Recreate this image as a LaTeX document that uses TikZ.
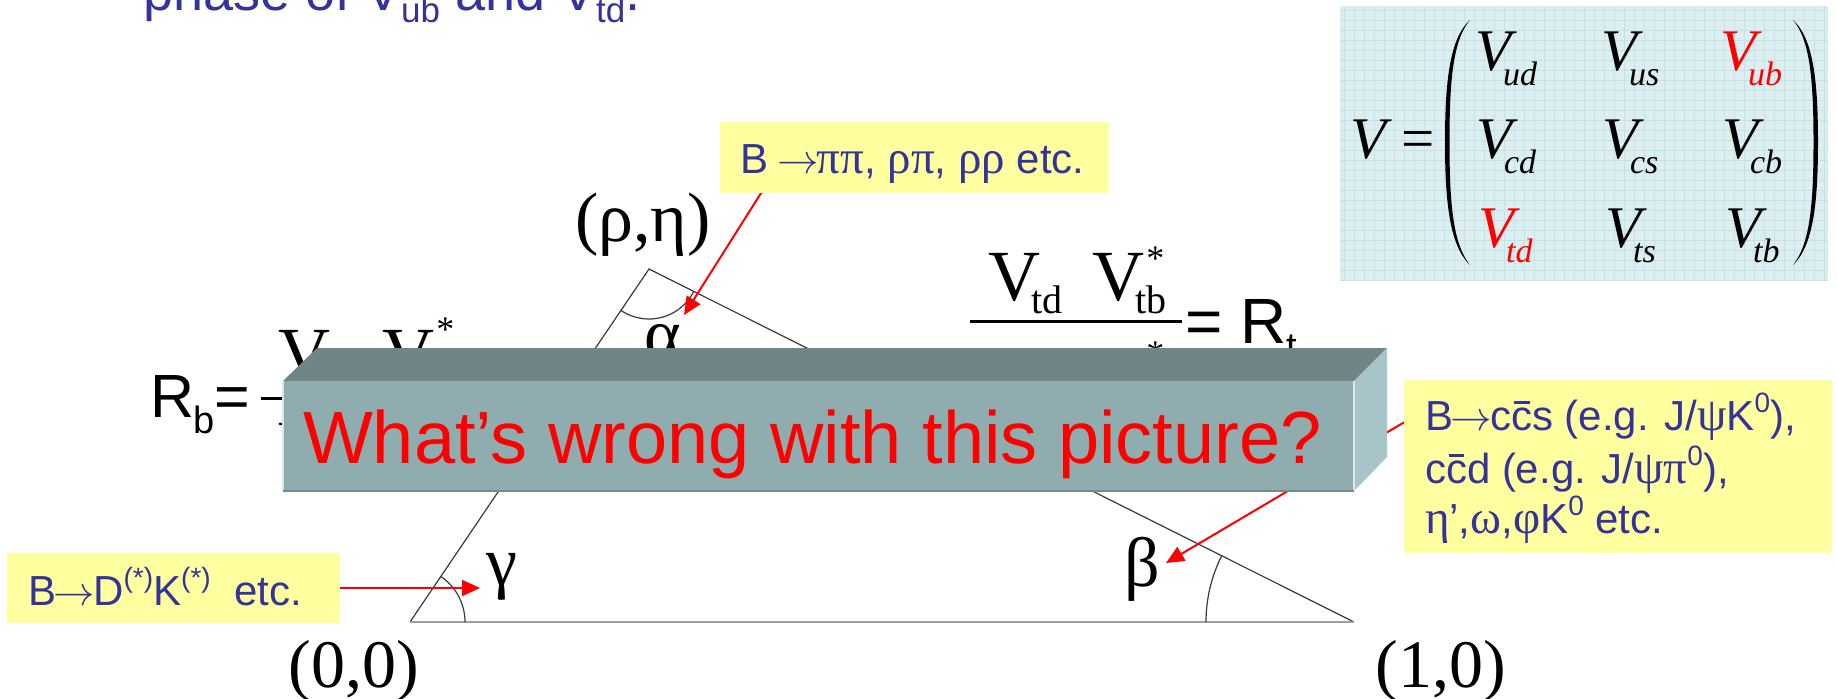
\documentclass[tikz,border=0pt]{standalone}
\usepackage{fontspec}
\setmainfont{Liberation Sans}
\newfontfamily\tms{Liberation Serif}
\usetikzlibrary{arrows.meta}
\definecolor{tblue}{HTML}{333399}
\definecolor{cyel}{HTML}{FFFFA0}
\definecolor{mbg}{HTML}{DCEEF0}
\definecolor{mgrid}{HTML}{C4E3E6}
\definecolor{btop}{HTML}{6F8587}
\definecolor{bfront}{HTML}{8FADAE}
\definecolor{bside}{HTML}{A7C5C8}
\definecolor{tline}{HTML}{3A3A3A}
\newcommand\fs[1]{\fontsize{#1}{#1}\selectfont}
\newcommand\cbar{\leavevmode\rlap{\kern0.06em\rule[0.63em]{0.38em}{0.06em}}c}
\newcommand\Vf[1]{V\kern-4.5pt\raisebox{-6.5pt}{\fs{20}#1}}
\newcommand\Mv[1]{{\itshape V\kern-4pt\raisebox{-7.5pt}{\fs{17}#1}}}
\newcommand\gk[1]{{\tms\fs{23.5}#1}}
\newcommand\arr{\kern-0.05em$\rightarrow$\kern-0.05em}
\newcommand\sps[1]{\raisebox{0.42em}{\fs{14}#1}}
\begin{document}
\begin{tikzpicture}[x=0.5pt,y=-0.5pt,
  txt/.style={inner sep=0pt,outer sep=0pt,anchor=base west},
  callout/.style={fill=cyel,draw=none,inner sep=0pt,outer sep=0pt,anchor=north west},
  ctext/.style={txt,text=tblue,font=\fs{21}},
  redarrow/.style={red,line width=1pt,-{Triangle[length=9pt,width=8pt]}},
  side/.style={tline,line width=0.6pt},
  serif/.style={inner sep=0pt,outer sep=0pt,font=\tms\fs{35}}
]
\useasboundingbox (0,0) rectangle (1837,698);
\clip (0,0) rectangle (1837,698);

% title line (cut at top)
\node[txt,text=tblue,font=\fs{27}] (title) at (143,10)
  {phase of V\raisebox{-6pt}{\fs{17.5}ub} and V\raisebox{-6pt}{\fs{17.5}td}.};

% CKM matrix panel
\node[callout,fill=mbg,minimum width=244pt,minimum height=137pt] (mbox) at (1340,6) {};
\begin{scope}
\clip (1340,6) rectangle (1828,280);
\foreach \i in {0,...,49} \draw[mgrid,line width=0.5pt] ({1344+10*\i},6) -- ({1344+10*\i},280);
\foreach \j in {0,...,27} \draw[mgrid,line width=0.5pt] (1340,{10+10*\j}) -- (1828,{10+10*\j});
\end{scope}
\node[txt,font=\tms\fs{29.5}] (mV) at (1350,158) {\itshape V};
\node[txt,font=\tms\fs{29.5}] (meq) at (1401,158) {=};
\fill[black] (1470,20) .. controls (1450,38) and (1445,80) .. (1445,142)
  .. controls (1445,204) and (1450,246) .. (1470,265)
  .. controls (1453,244) and (1449.5,204) .. (1449.5,142)
  .. controls (1449.5,80) and (1453,40) .. (1470,20) -- cycle;
\fill[black] (1793,20) .. controls (1813,38) and (1818,80) .. (1818,142)
  .. controls (1818,204) and (1813,246) .. (1793,265)
  .. controls (1810,244) and (1813.5,204) .. (1813.5,142)
  .. controls (1813.5,80) and (1810,40) .. (1793,20) -- cycle;
\node[txt,font=\tms\fs{29.5}] (m11) at (1475,70) {\Mv{ud}};
\node[txt,font=\tms\fs{29.5}] (m12) at (1601,70) {\Mv{us}};
\node[txt,font=\tms\fs{29.5},text=red] (m13) at (1720,70) {\Mv{ub}};
\node[txt,font=\tms\fs{29.5}] (m21) at (1476,158) {\Mv{cd}};
\node[txt,font=\tms\fs{29.5}] (m22) at (1602,158) {\Mv{cs}};
\node[txt,font=\tms\fs{29.5}] (m23) at (1722,158) {\Mv{cb}};
\node[txt,font=\tms\fs{29.5},text=red] (m31) at (1478,247) {\Mv{td}};
\node[txt,font=\tms\fs{29.5}] (m32) at (1605,247) {\Mv{ts}};
\node[txt,font=\tms\fs{29.5}] (m33) at (1725,247) {\Mv{tb}};

% unitarity triangle
\coordinate (A) at (410,622);
\coordinate (B) at (1354,622);
\coordinate (C) at (649,269);
\draw[side] (A) -- (C) -- (B);
\draw[black!38,line width=1.2pt] (A) -- (B);
\draw[side] (A) ++(0:55) arc[start angle=0,end angle=-55.9,radius=55];
\draw[side] (B) ++(180:148) arc[start angle=180,end angle=206.6,radius=148];
\draw[side] (C) ++(26.6:50) arc[start angle=26.6,end angle=124.1,radius=50];
\node[serif,anchor=north] (alpha) at (663,324) {α};
\node[serif] (gamma) at (502,577) {γ};
\node[serif] (beta) at (1142,569) {β};
\node[serif,anchor=base] (rhoeta) at (643,241) {(ρ,η)};
\node[serif,font=\tms\fs{34},anchor=base] (p00) at (354,687) {(0,0)};
\node[serif,font=\tms\fs{34},anchor=base] (p10) at (1441,687) {(1,0)};

% R_b fraction
\node[txt,font=\fs{30.5}] (Rb) at (150,417) {R\kern-0.5pt\raisebox{-8pt}{\fs{19}b}=};
\draw[black,line width=1.5pt] (261,398) -- (473,398);
\node[txt,font=\tms\fs{36}] (rbn1) at (278,377) {\Vf{ud}};
\node[txt,font=\tms\fs{36}] (rbn2) at (382,377) {\Vf{ub}};
\node[inner sep=0pt,anchor=north west,font=\tms\fs{18}] (rbs1) at (436,318) {*};
\node[txt,font=\tms\fs{36}] (rbd1) at (278,470) {V};

% R_t fraction
\draw[black,line width=1.5pt] (970,321) -- (1182,321);
\node[txt,font=\tms\fs{36}] (rtn1) at (988,300) {\Vf{td}};
\node[txt,font=\tms\fs{36}] (rtn2) at (1092,300) {\Vf{tb}};
\node[inner sep=0pt,anchor=north west,font=\tms\fs{18}] (rts1) at (1146,247) {*};
\node[inner sep=0pt,anchor=north west,font=\tms\fs{18}] (rts2) at (1146,342) {*};
\node[txt,font=\fs{32}] (Rt) at (1185,343) {= R\raisebox{-8pt}{\fs{19}t}};

% callout arrows (behind the block)
\coordinate (a1s) at (763,190);
\coordinate (a1e) at (684,315);
\coordinate (a2s) at (339,588);
\coordinate (a2e) at (480,588);
\coordinate (a3s) at (1408,420);
\coordinate (a3e) at (1166,563);
\draw[redarrow] (a1s) -- (a1e);
\draw[redarrow] (a2s) -- (a2e);
\draw[redarrow] (a3s) -- (a3e);

% 3D block
\coordinate (f1) at (283,381);
\coordinate (f2) at (1354,381);
\coordinate (f3) at (1354,491);
\coordinate (f4) at (283,491);
\coordinate (t1) at (317,348);
\coordinate (t2) at (1387,348);
\coordinate (s3) at (1387,457);
\fill[btop] (f1) -- (t1) -- (t2) -- (f2) -- cycle;
\fill[bside] (f2) -- (t2) -- (s3) -- (f3) -- cycle;
\fill[bfront] (f1) rectangle (f3);
\draw[white!70!bfront,line width=0.8pt] (f1) -- (f4);
\draw[white!60!bside,line width=1pt] (f2) -- (f3);
\draw[black!20!bfront,line width=0.6pt] (f4) -- (f3);
\node[txt,text=red,font=\fs{37}] (q) at (303,463) {What’s wrong with this picture?};

% callouts
\node[callout,minimum width=194.5pt,minimum height=35.5pt] (c1) at (720,122) {};
\node[ctext] (c1t) at (740,173) {B \arr\gk{ππ}, \gk{ρπ}, \gk{ρρ} etc.};
\node[callout,minimum width=166.5pt,minimum height=35pt] (c2) at (7,553) {};
\node[ctext] (c2t) at (28,605) {B\arr D\sps{(*)}K\sps{(*)}\ \ etc.};
\node[callout,minimum width=214pt,minimum height=86.5pt] (c3) at (1404,380) {};
\node[ctext] (c3a) at (1425,430) {B\arr c\cbar s (e.g. J/\gk{ψ}K\sps{0}),};
\node[ctext] (c3b) at (1425,483) {c\cbar d (e.g. J/\gk{ψπ}\sps{0}),};
\node[ctext] (c3c) at (1425,533) {\gk{η}’,\gk{ω},\gk{φ}K\sps{0} etc.};
\end{tikzpicture}
\end{document}
